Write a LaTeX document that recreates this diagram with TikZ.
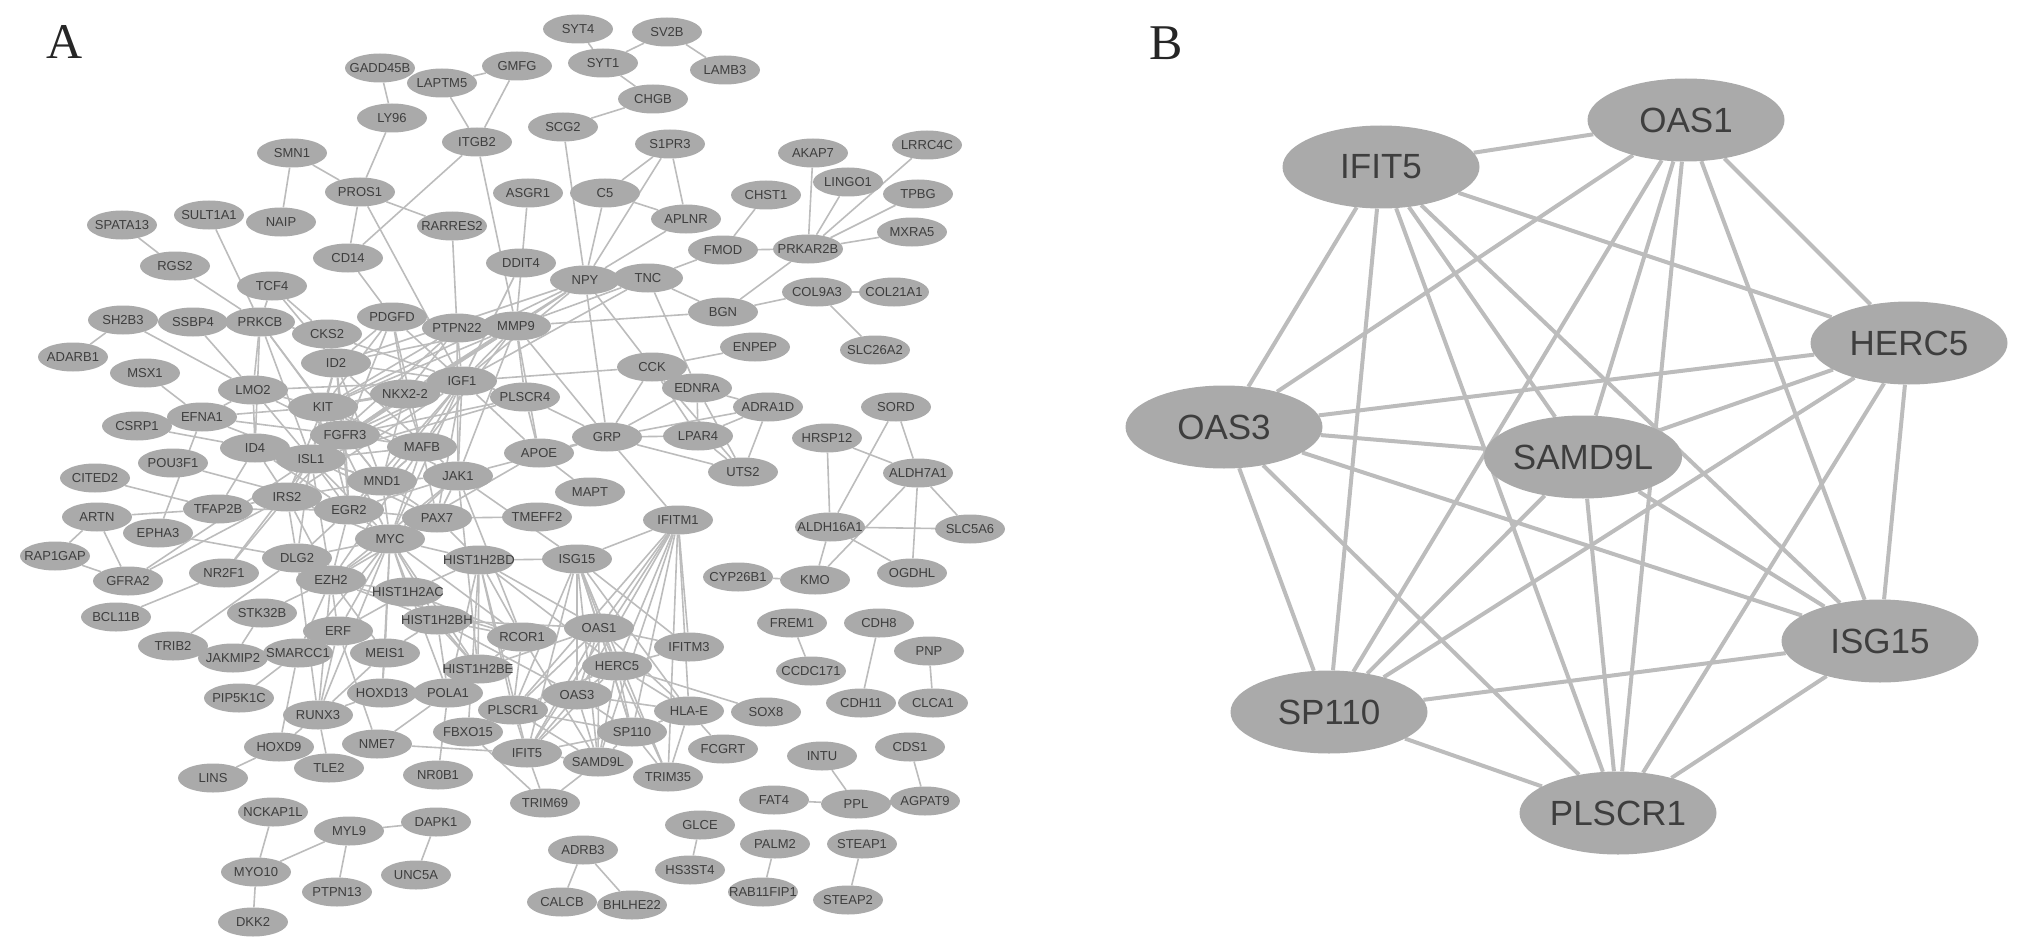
\documentclass[tikz,border=0pt]{standalone}
\usepackage{fontspec}
\setmainfont{Liberation Sans}
\newfontfamily\panelserif{Liberation Serif}
\usetikzlibrary{shapes.geometric}
\definecolor{nodegray}{RGB}{170,170,170}
\definecolor{edgegray}{RGB}{188,188,188}
\definecolor{txtgray}{RGB}{62,62,62}
\pgfdeclarelayer{edgelayer}
\pgfsetlayers{edgelayer,main}
\tikzset{
  nA/.style={ellipse, fill=nodegray, draw=none, minimum width=70pt, minimum height=29pt, inner sep=0pt, font=\fontsize{13}{15}\selectfont, text=txtgray},
  nB/.style={ellipse, fill=nodegray, draw=none, minimum width=197pt, minimum height=83pt, inner sep=0pt, font=\fontsize{35}{40}\selectfont, text=txtgray},
  eA/.style={draw=edgegray, line width=1.6pt},
  eB/.style={draw=edgegray, line width=4pt},
  paneltag/.style={font=\panelserif\fontsize{50}{50}\selectfont, text=black!85, inner sep=0pt}
}
\newcommand{\gnode}[3]{\node[nA] (#1) at (#2) {\makebox[0pt]{#3}};}
\begin{document}
\begin{tikzpicture}[x=1pt,y=-1pt]
\useasboundingbox (0,0) rectangle (2031,952);
\node[paneltag] (tagA) at (65,42) {A};
\node[paneltag] (tagB) at (1166,43) {B};
% ---------- panel A nodes ----------
\gnode{SYT4}{578,29}{SYT4}
\gnode{SV2B}{667,32}{SV2B}
\gnode{LAMB3}{725,70}{LAMB3}
\gnode{SYT1}{603,63}{SYT1}
\gnode{GADD45B}{380,68}{GADD45B}
\gnode{GMFG}{517,66}{GMFG}
\gnode{LAPTM5}{442,83}{LAPTM5}
\gnode{CHGB}{653,99}{CHGB}
\gnode{LY96}{392,118}{LY96}
\gnode{SCG2}{563,127}{SCG2}
\gnode{ITGB2}{477,142}{ITGB2}
\gnode{S1PR3}{670,144}{S1PR3}
\gnode{AKAP7}{813,153}{AKAP7}
\gnode{LRRC4C}{927,145}{LRRC4C}
\gnode{SMN1}{292,153}{SMN1}
\gnode{PROS1}{360,192}{PROS1}
\gnode{ASGR1}{528,193}{ASGR1}
\gnode{C5}{605,193}{C5}
\gnode{LINGO1}{848,182}{LINGO1}
\gnode{APLNR}{686,219}{APLNR}
\gnode{CHST1}{766,195}{CHST1}
\gnode{TPBG}{918,194}{TPBG}
\gnode{SULT1A1}{209,215}{SULT1A1}
\gnode{NAIP}{281,222}{NAIP}
\gnode{RARRES2}{452,226}{RARRES2}
\gnode{SPATA13}{122,225}{SPATA13}
\gnode{MXRA5}{912,232}{MXRA5}
\gnode{RGS2}{175,266}{RGS2}
\gnode{CD14}{348,258}{CD14}
\gnode{DDIT4}{521,263}{DDIT4}
\gnode{NPY}{585,280}{NPY}
\gnode{TNC}{648,278}{TNC}
\gnode{FMOD}{723,250}{FMOD}
\gnode{PRKAR2B}{808,249}{PRKAR2B}
\gnode{TCF4}{272,286}{TCF4}
\gnode{COL9A3}{817,292}{COL9A3}
\gnode{COL21A1}{894,292}{COL21A1}
\gnode{BGN}{723,312}{BGN}
\gnode{SH2B3}{123,320}{SH2B3}
\gnode{SSBP4}{193,322}{SSBP4}
\gnode{PRKCB}{260,322}{PRKCB}
\gnode{PDGFD}{392,317}{PDGFD}
\gnode{PTPN22}{457,328}{PTPN22}
\gnode{MMP9}{516,326}{MMP9}
\gnode{CKS2}{327,334}{CKS2}
\gnode{ADARB1}{73,357}{ADARB1}
\gnode{ID2}{336,363}{ID2}
\gnode{ENPEP}{755,347}{ENPEP}
\gnode{SLC26A2}{875,350}{SLC26A2}
\gnode{MSX1}{145,373}{MSX1}
\gnode{LMO2}{253,390}{LMO2}
\gnode{IGF1}{462,381}{IGF1}
\gnode{NKX}{405,394}{NKX2-2}
\gnode{CCK}{652,367}{CCK}
\gnode{EDNRA}{697,388}{EDNRA}
\gnode{PLSCR4}{525,397}{PLSCR4}
\gnode{KIT}{323,407}{KIT}
\gnode{ADRA1D}{768,407}{ADRA1D}
\gnode{SORD}{896,407}{SORD}
\gnode{EFNA1}{202,417}{EFNA1}
\gnode{CSRP1}{137,426}{CSRP1}
\gnode{FGFR3}{345,435}{FGFR3}
\gnode{GRP}{607,437}{GRP}
\gnode{LPAR4}{698,436}{LPAR4}
\gnode{HRSP12}{827,438}{HRSP12}
\gnode{ID4}{255,448}{ID4}
\gnode{MAFB}{422,447}{MAFB}
\gnode{APOE}{539,453}{APOE}
\gnode{ISL1}{311,459}{ISL1}
\gnode{POU3F1}{173,463}{POU3F1}
\gnode{CITED2}{95,478}{CITED2}
\gnode{UTS2}{743,472}{UTS2}
\gnode{ALDH7A1}{918,473}{ALDH7A1}
\gnode{MND1}{382,481}{MND1}
\gnode{JAK1}{458,476}{JAK1}
\gnode{MAPT}{590,492}{MAPT}
\gnode{IRS2}{287,497}{IRS2}
\gnode{TFAP2B}{218,509}{TFAP2B}
\gnode{EGR2}{349,510}{EGR2}
\gnode{ARTN}{97,517}{ARTN}
\gnode{PAX7}{437,518}{PAX7}
\gnode{TMEFF2}{537,517}{TMEFF2}
\gnode{IFITM1}{678,520}{IFITM1}
\gnode{EPHA3}{158,533}{EPHA3}
\gnode{ALDH16A1}{830,527}{ALDH16A1}
\gnode{SLC5A6}{970,529}{SLC5A6}
\gnode{MYC}{390,539}{MYC}
\gnode{RAP1GAP}{55,556}{RAP1GAP}
\gnode{DLG2}{297,558}{DLG2}
\gnode{H2BD}{479,560}{HIST1H2BD}
\gnode{ISG15}{577,559}{ISG15}
\gnode{NR2F1}{224,573}{NR2F1}
\gnode{GFRA2}{128,581}{GFRA2}
\gnode{EZH2}{331,580}{EZH2}
\gnode{CYP26B1}{738,577}{CYP26B1}
\gnode{KMO}{815,580}{KMO}
\gnode{OGDHL}{912,573}{OGDHL}
\gnode{H2AC}{408,592}{HIST1H2AC}
\gnode{BCL11B}{116,617}{BCL11B}
\gnode{STK32B}{262,613}{STK32B}
\gnode{H2BH}{437,620}{HIST1H2BH}
\gnode{OAS1}{599,628}{OAS1}
\gnode{ERF}{338,631}{ERF}
\gnode{FREM1}{792,623}{FREM1}
\gnode{CDH8}{879,623}{CDH8}
\gnode{RCOR1}{522,637}{RCOR1}
\gnode{TRIB2}{173,646}{TRIB2}
\gnode{IFITM3}{689,647}{IFITM3}
\gnode{PNP}{929,651}{PNP}
\gnode{JAKMIP2}{233,658}{JAKMIP2}
\gnode{SMARCC1}{298,653}{SMARCC1}
\gnode{MEIS1}{385,653}{MEIS1}
\gnode{HERC5}{617,666}{HERC5}
\gnode{H2BE}{478,669}{HIST1H2BE}
\gnode{CCDC171}{811,671}{CCDC171}
\gnode{PIP5K1C}{239,698}{PIP5K1C}
\gnode{HOXD13}{382,693}{HOXD13}
\gnode{POLA1}{448,693}{POLA1}
\gnode{OAS3}{577,695}{OAS3}
\gnode{CDH11}{861,703}{CDH11}
\gnode{CLCA1}{933,703}{CLCA1}
\gnode{PLSCR1}{513,710}{PLSCR1}
\gnode{HLAE}{689,711}{HLA-E}
\gnode{SOX8}{766,712}{SOX8}
\gnode{RUNX3}{318,715}{RUNX3}
\gnode{FBXO15}{468,732}{FBXO15}
\gnode{SP110}{632,732}{SP110}
\gnode{NME7}{377,744}{NME7}
\gnode{HOXD9}{279,747}{HOXD9}
\gnode{CDS1}{910,747}{CDS1}
\gnode{FCGRT}{723,749}{FCGRT}
\gnode{IFIT5}{527,753}{IFIT5}
\gnode{INTU}{822,756}{INTU}
\gnode{SAMD9L}{598,762}{SAMD9L}
\gnode{TLE2}{329,768}{TLE2}
\gnode{NR0B1}{438,775}{NR0B1}
\gnode{TRIM35}{668,777}{TRIM35}
\gnode{LINS}{213,778}{LINS}
\gnode{FAT4}{774,800}{FAT4}
\gnode{PPL}{856,804}{PPL}
\gnode{AGPAT9}{925,801}{AGPAT9}
\gnode{TRIM69}{545,803}{TRIM69}
\gnode{NCKAP1L}{273,812}{NCKAP1L}
\gnode{DAPK1}{436,822}{DAPK1}
\gnode{GLCE}{700,825}{GLCE}
\gnode{MYL9}{349,831}{MYL9}
\gnode{PALM2}{775,844}{PALM2}
\gnode{STEAP1}{862,844}{STEAP1}
\gnode{ADRB3}{583,850}{ADRB3}
\gnode{HS3ST4}{690,870}{HS3ST4}
\gnode{MYO10}{256,872}{MYO10}
\gnode{UNC5A}{416,875}{UNC5A}
\gnode{RAB11FIP1}{763,892}{RAB11FIP1}
\gnode{PTPN13}{337,892}{PTPN13}
\gnode{STEAP2}{848,900}{STEAP2}
\gnode{CALCB}{562,902}{CALCB}
\gnode{BHLHE22}{632,905}{BHLHE22}
\gnode{DKK2}{253,922}{DKK2}
% ---------- panel B nodes ----------
\node[nB] (bOAS1) at (1686,120) {OAS1};
\node[nB] (bIFIT5) at (1381,167) {IFIT5};
\node[nB] (bHERC5) at (1909,343) {HERC5};
\node[nB] (bOAS3) at (1224,427) {OAS3};
\node[nB] (bSAMD9L) at (1583,457) {SAMD9L};
\node[nB] (bISG15) at (1880,641) {ISG15};
\node[nB] (bSP110) at (1329,712) {SP110};
\node[nB] (bPLSCR1) at (1618,813) {PLSCR1};
\begin{pgfonlayer}{edgelayer}
\foreach \a/\b in {
SYT4/SYT1, SV2B/SYT1, SV2B/LAMB3, SYT1/CHGB, CHGB/SCG2, SCG2/NPY,
GADD45B/LY96, LY96/PROS1, GMFG/LAPTM5, LAPTM5/ITGB2, GMFG/ITGB2, ITGB2/CD14, ITGB2/MMP9,
SMN1/NAIP, SMN1/PROS1, PROS1/RARRES2, PROS1/CD14, PROS1/IGF1, RARRES2/PTPN22, ASGR1/MMP9, DDIT4/IGF1,
C5/NPY, C5/S1PR3, C5/APLNR, S1PR3/NPY, S1PR3/APLNR, APLNR/NPY, NPY/TNC, TNC/FMOD, TNC/BGN, MMP9/BGN,
FMOD/CHST1, FMOD/PRKAR2B, PRKAR2B/AKAP7, PRKAR2B/LINGO1, PRKAR2B/LRRC4C, PRKAR2B/TPBG, PRKAR2B/MXRA5, PRKAR2B/BGN,
BGN/COL9A3, COL9A3/COL21A1, COL9A3/SLC26A2,
NPY/GRP, NPY/CCK, TNC/EDNRA, ENPEP/CCK, NPY/MMP9, NPY/IGF1, NPY/NKX, NPY/ID2, NPY/KIT, TNC/MMP9, TNC/IGF1,
EDNRA/ADRA1D, EDNRA/UTS2, EDNRA/LPAR4, LPAR4/ADRA1D, LPAR4/UTS2, ADRA1D/UTS2, GRP/LPAR4, GRP/EDNRA, GRP/UTS2,
CCK/GRP, CCK/EDNRA, CCK/UTS2, GRP/ADRA1D, CCK/LPAR4,
SORD/ALDH7A1, SORD/ALDH16A1, HRSP12/ALDH7A1, HRSP12/ALDH16A1, ALDH7A1/SLC5A6, ALDH7A1/OGDHL, ALDH7A1/KMO,
ALDH16A1/SLC5A6, ALDH16A1/KMO, ALDH16A1/OGDHL, KMO/CYP26B1,
FREM1/CCDC171, CDH8/CDH11, PNP/CLCA1, INTU/PPL, FAT4/PPL, PPL/AGPAT9, CDS1/AGPAT9, GLCE/HS3ST4, PALM2/RAB11FIP1,
STEAP1/STEAP2, ADRB3/CALCB, ADRB3/BHLHE22,
NCKAP1L/MYO10, MYO10/MYL9, MYO10/DKK2, MYL9/PTPN13, MYL9/DAPK1, DAPK1/UNC5A,
HOXD9/LINS, RUNX3/HOXD9, RUNX3/TLE2, SMARCC1/HOXD9, RUNX3/ERF, RUNX3/EZH2, RUNX3/MEIS1, RUNX3/DLG2, RUNX3/MYC, RUNX3/HOXD13,
ERF/NME7, JAKMIP2/STK32B, SMARCC1/PIP5K1C, TRIB2/DLG2, SMARCC1/EZH2, SMARCC1/MYC,
MEIS1/HOXD13, MEIS1/EZH2, MEIS1/MYC, MEIS1/H2BH, POLA1/NME7, POLA1/NR0B1, POLA1/H2BE, POLA1/H2BH, POLA1/MYC, POLA1/H2BD,
NME7/IFIT5, IFIT5/TRIM69, SAMD9L/TRIM69, FBXO15/TRIM69, FBXO15/H2BD, FBXO15/PLSCR1,
OAS1/HERC5, OAS1/OAS3, OAS1/SAMD9L, OAS1/ISG15, OAS1/SP110, OAS1/PLSCR1, OAS1/IFIT5,
HERC5/OAS3, HERC5/SAMD9L, HERC5/ISG15, HERC5/SP110, HERC5/PLSCR1, HERC5/IFIT5,
OAS3/SAMD9L, OAS3/ISG15, OAS3/SP110, OAS3/PLSCR1, OAS3/IFIT5,
SAMD9L/ISG15, SAMD9L/SP110, SAMD9L/PLSCR1, SAMD9L/IFIT5,
ISG15/SP110, ISG15/PLSCR1, ISG15/IFIT5, SP110/PLSCR1, SP110/IFIT5, PLSCR1/IFIT5,
ISG15/IFITM1, ISG15/H2BD, ISG15/JAK1, ISG15/HLAE, ISG15/TRIM35, ISG15/IFITM3,
IFITM1/OAS1, IFITM1/HERC5, IFITM1/OAS3, IFITM1/SP110, IFITM1/SAMD9L, IFITM1/IFIT5, IFITM1/PLSCR1, IFITM1/HLAE,
IFITM1/IFITM3, IFITM1/GRP, IFITM1/TRIM35,
OAS1/IFITM3, OAS1/HLAE, HERC5/HLAE, HERC5/SOX8, HERC5/TRIM35, HERC5/IFITM3, OAS3/HLAE, SP110/TRIM35, SP110/HLAE,
HLAE/TRIM35, HLAE/FCGRT,
H2BD/OAS1, H2BD/HERC5, H2BD/RCOR1, H2BD/H2BE, H2BD/MYC, H2BD/H2AC, H2BD/IFIT5, H2BD/PLSCR1,
H2BH/RCOR1, H2BH/OAS1, H2BH/H2BE, H2BH/MYC, H2BH/H2AC, H2BH/EZH2, H2BH/OAS3,
H2AC/EZH2, H2AC/MYC, H2AC/H2BE, H2AC/RCOR1, H2AC/ERF,
H2BE/RCOR1, H2BE/MYC, H2BE/OAS1, RCOR1/MYC, RCOR1/EZH2, RCOR1/PLSCR1, RCOR1/SAMD9L,
MYC/EZH2, MYC/DLG2, MYC/ERF, MYC/PAX7, MYC/JAK1, MYC/EGR2, MYC/IGF1, MYC/MAFB, MYC/ISL1, MYC/IRS2, MYC/APOE,
MYC/HOXD13, MYC/MND1, MYC/KIT,
EZH2/DLG2, EZH2/ERF, EZH2/EGR2, EZH2/ISL1, EZH2/PAX7, EZH2/MAFB, EZH2/JAK1, EZH2/STK32B, EZH2/IRS2,
DLG2/EPHA3, DLG2/IRS2, DLG2/ISL1, DLG2/EGR2,
JAK1/IGF1, JAK1/PAX7, JAK1/MND1, JAK1/GRP, JAK1/MMP9, JAK1/H2BE, JAK1/RCOR1, JAK1/EGR2, JAK1/KIT, JAK1/ID2, JAK1/PTPN22,
PAX7/MND1, PAX7/ISL1, PAX7/EGR2, PAX7/IGF1, PAX7/H2BD, PAX7/TMEFF2, PAX7/MAFB,
MAFB/IGF1, MAFB/NKX, MAFB/MND1, MAFB/ISL1, MAFB/EGR2, MAFB/KIT, MAFB/PDGFD, MAFB/MMP9, MAFB/FGFR3,
MND1/EGR2, MND1/ISL1, MND1/IGF1, MND1/FGFR3,
NKX/IGF1, NKX/ISL1, NKX/KIT, NKX/MMP9, NKX/PDGFD, NKX/FGFR3, NKX/MND1,
IGF1/PTPN22, IGF1/MMP9, IGF1/CCK, IGF1/APOE, IGF1/PLSCR4, IGF1/KIT, IGF1/FGFR3, IGF1/ID2, IGF1/PDGFD, IGF1/ISL1,
IGF1/EGR2, IGF1/CKS2, IGF1/LMO2, IGF1/IRS2,
MMP9/PTPN22, MMP9/KIT, MMP9/ID2, MMP9/FGFR3, MMP9/PLSCR4, MMP9/APOE, MMP9/ISL1, MMP9/PDGFD, MMP9/GRP,
PDGFD/KIT, PDGFD/FGFR3, PDGFD/ID2, CD14/PDGFD,
PTPN22/KIT, PTPN22/ISL1, PTPN22/NKX,
PLSCR4/GRP, PLSCR4/APOE, PLSCR4/FGFR3, PLSCR4/ISL1,
APOE/GRP, APOE/MAPT,
SPATA13/RGS2, RGS2/PRKCB, SULT1A1/PRKCB, TCF4/PRKCB, TCF4/ID2, TCF4/CKS2,
SH2B3/ADARB1, SH2B3/LMO2, SSBP4/LMO2, PRKCB/LMO2, PRKCB/KIT, PRKCB/CKS2, PRKCB/ID4, PRKCB/ISL1, PRKCB/FGFR3,
MSX1/EFNA1, CSRP1/ID4, CSRP1/EFNA1, EFNA1/KIT, EFNA1/EPHA3, EFNA1/LMO2, EFNA1/FGFR3, EFNA1/ISL1,
POU3F1/EGR2, CITED2/TFAP2B, ARTN/GFRA2, ARTN/RAP1GAP, ARTN/TFAP2B, RAP1GAP/GFRA2, GFRA2/IRS2, GFRA2/ISL1,
NR2F1/BCL11B, NR2F1/IRS2, NR2F1/ISL1, TFAP2B/ID4, TFAP2B/IRS2, TFAP2B/EGR2,
CKS2/ID2, ID2/KIT, ID2/ISL1, ID2/FGFR3, ID2/EGR2, ID2/MND1,
LMO2/KIT, LMO2/ID4, LMO2/ISL1, LMO2/FGFR3,
KIT/FGFR3, KIT/ISL1, KIT/MND1, KIT/EGR2, KIT/IRS2,
FGFR3/ISL1, FGFR3/IRS2, FGFR3/EGR2,
ID4/ISL1, ID4/IRS2, ID4/EGR2,
ISL1/IRS2, ISL1/EGR2, ISL1/MND1,
IRS2/EGR2, IRS2/MND1}
  \draw[eA] (\a) -- (\b);
\foreach \a/\b in {
bOAS1/bIFIT5, bOAS1/bHERC5, bOAS1/bOAS3, bOAS1/bSAMD9L, bOAS1/bISG15, bOAS1/bSP110, bOAS1/bPLSCR1,
bIFIT5/bHERC5, bIFIT5/bOAS3, bIFIT5/bSAMD9L, bIFIT5/bISG15, bIFIT5/bSP110, bIFIT5/bPLSCR1,
bHERC5/bOAS3, bHERC5/bSAMD9L, bHERC5/bISG15, bHERC5/bSP110, bHERC5/bPLSCR1,
bOAS3/bSAMD9L, bOAS3/bISG15, bOAS3/bSP110, bOAS3/bPLSCR1,
bSAMD9L/bISG15, bSAMD9L/bSP110, bSAMD9L/bPLSCR1,
bISG15/bSP110, bISG15/bPLSCR1,
bSP110/bPLSCR1}
  \draw[eB] (\a) -- (\b);
\end{pgfonlayer}
\end{tikzpicture}
\end{document}
